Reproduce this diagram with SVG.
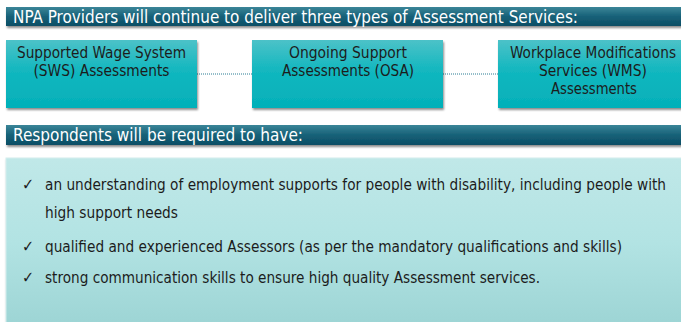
<svg xmlns="http://www.w3.org/2000/svg" width="681" height="322" viewBox="0 0 681 322">
<defs>
<linearGradient id="hdr" x1="0" y1="0" x2="0" y2="1">
<stop offset="0" stop-color="#3b8598"/>
<stop offset="0.5" stop-color="#176178"/>
<stop offset="1" stop-color="#0a4e65"/>
</linearGradient>
<linearGradient id="box" x1="0" y1="0" x2="0" y2="1">
<stop offset="0" stop-color="#4cc2c8"/>
<stop offset="0.45" stop-color="#12b7bf"/>
<stop offset="1" stop-color="#03b0b9"/>
</linearGradient>
<linearGradient id="panel" x1="0" y1="0" x2="0" y2="1">
<stop offset="0" stop-color="#c0e8e8"/>
<stop offset="0.5" stop-color="#b2e3e3"/>
<stop offset="1" stop-color="#9cd4d4"/>
</linearGradient>
<filter id="sh" x="-5%" y="-20%" width="110%" height="150%">
<feGaussianBlur in="SourceAlpha" stdDeviation="1.2"/>
<feOffset dx="0.5" dy="1.5" result="b"/>
<feComponentTransfer><feFuncA type="linear" slope="0.45"/></feComponentTransfer>
<feMerge><feMergeNode/><feMergeNode in="SourceGraphic"/></feMerge>
</filter>
</defs>
<style>
.t{font-family:"DejaVu Sans Condensed","DejaVu Sans",sans-serif;}
.h{fill:#ffffff;font-size:17px;}
.b{fill:#1c1c1c;font-size:15.5px;text-anchor:middle;}
.p{fill:#1c1c1c;font-size:15px;}
.c{fill:#1c1c1c;font-size:16px;}
.conn{stroke:#2a7d94;stroke-width:1;stroke-dasharray:1 1;fill:none;}
</style>
<rect x="0" y="0" width="681" height="322" fill="#ffffff"/>

<g id="header1">
<rect x="6" y="7" width="680" height="19" fill="url(#hdr)" filter="url(#sh)"/>
<text class="t h" x="13" y="23" textLength="565" lengthAdjust="spacingAndGlyphs">NPA Providers will continue to deliver three types of Assessment Services:</text>
</g>

<g id="connectors">
<line class="conn" x1="197" y1="74" x2="252" y2="74"/>
<line class="conn" x1="443" y1="74" x2="498" y2="74"/>
</g>

<g id="sws">
<rect x="6" y="40" width="191" height="68" fill="url(#box)" filter="url(#sh)"/>
<text class="t b" x="101.5" y="57.5" textLength="169" lengthAdjust="spacingAndGlyphs">Supported Wage System</text>
<text class="t b" x="101.5" y="76" textLength="136" lengthAdjust="spacingAndGlyphs">(SWS) Assessments</text>
</g>

<g id="osa">
<rect x="252" y="40" width="191" height="68" fill="url(#box)" filter="url(#sh)"/>
<text class="t b" x="348" y="57.5" textLength="118" lengthAdjust="spacingAndGlyphs">Ongoing Support</text>
<text class="t b" x="348" y="76" textLength="132" lengthAdjust="spacingAndGlyphs">Assessments (OSA)</text>
</g>

<g id="wms">
<rect x="498" y="40" width="191" height="68" fill="url(#box)" filter="url(#sh)"/>
<text class="t b" x="593" y="57.5" textLength="166" lengthAdjust="spacingAndGlyphs">Workplace Modifications</text>
<text class="t b" x="593" y="76" textLength="108" lengthAdjust="spacingAndGlyphs">Services (WMS)</text>
<text class="t b" x="594" y="94" textLength="86" lengthAdjust="spacingAndGlyphs">Assessments</text>
</g>

<g id="header2">
<rect x="6" y="125" width="680" height="20" fill="url(#hdr)" filter="url(#sh)"/>
<text class="t h" x="13" y="141" textLength="290" lengthAdjust="spacingAndGlyphs">Respondents will be required to have:</text>
</g>

<g id="requirements">
<rect x="6" y="158" width="680" height="170" fill="url(#panel)" stroke="#d4eeee" stroke-width="1" filter="url(#sh)"/>
<text class="t c" x="22" y="190">✓</text>
<text class="t p" x="45" y="190" textLength="621" lengthAdjust="spacingAndGlyphs">an understanding of employment supports for people with disability, including people with</text>
<text class="t p" x="45" y="218" textLength="133" lengthAdjust="spacingAndGlyphs">high support needs</text>
<text class="t c" x="22" y="252">✓</text>
<text class="t p" x="45" y="252" textLength="577" lengthAdjust="spacingAndGlyphs">qualified and experienced Assessors (as per the mandatory qualifications and skills)</text>
<text class="t c" x="22" y="283">✓</text>
<text class="t p" x="45" y="283" textLength="495" lengthAdjust="spacingAndGlyphs">strong communication skills to ensure high quality Assessment services.</text>
</g>
</svg>
